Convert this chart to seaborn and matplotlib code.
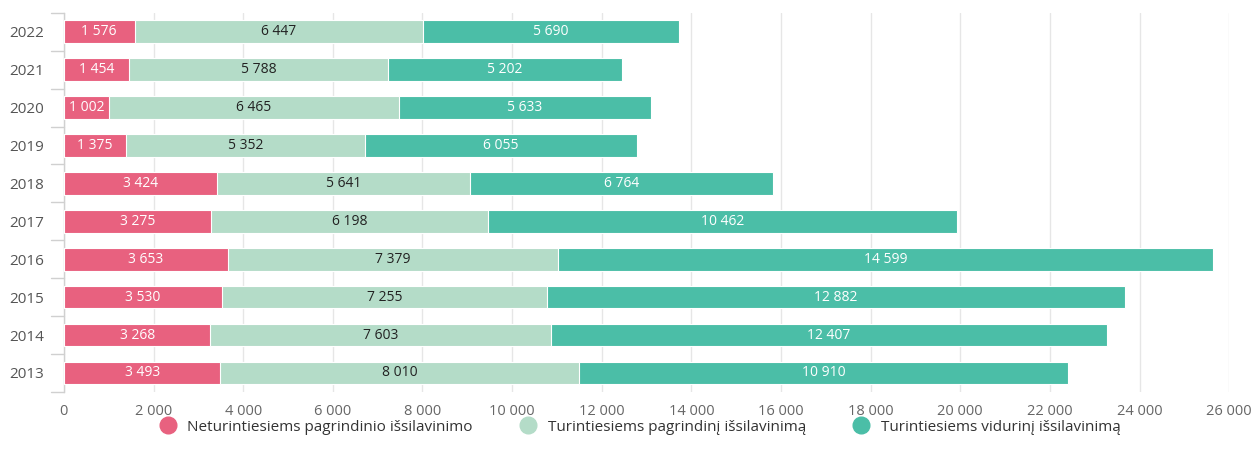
import numpy as np
import pandas as pd
import matplotlib.pyplot as plt
import seaborn as sns

years = ['2022', '2021', '2020', '2019', '2018', '2017', '2016', '2015', '2014', '2013']
be_pagrindinio = [1576, 1454, 1002, 1375, 3424, 3275, 3653, 3530, 3268, 3493]
pagrindinis = [6447, 5788, 6465, 5352, 5641, 6198, 7379, 7255, 7603, 8010]
vidurinis = [5690, 5202, 5633, 6055, 6764, 10462, 14599, 12882, 12407, 10910]

labels = ['Neturintiesiems pagrindinio išsilavinimo',
          'Turintiesiems pagrindinį išsilavinimą',
          'Turintiesiems vidurinį išsilavinimą']
colors = ['#e8617f', '#b4dcc8', '#4bbea7']
text_colors = ['white', '#222222', 'white']

df = pd.DataFrame({'year': years, 'a': be_pagrindinio, 'b': pagrindinis, 'c': vidurinis})
df['ab'] = df['a'] + df['b']
df['abc'] = df['ab'] + df['c']

sns.set_style('white')
plt.rcParams['font.family'] = ['Open Sans', 'DejaVu Sans']

fig = plt.figure(figsize=(12.53, 4.61), dpi=100)
ax = fig.add_axes([0.051, 0.150, 0.930, 0.822])

# stacked: draw totals first, then overlay the smaller sums
for col, c in zip(['abc', 'ab', 'a'], colors[::-1]):
    sns.barplot(data=df, x=col, y='year', order=years, color=c, width=0.6,
                orient='h', ax=ax, saturation=1, edgecolor='white', linewidth=0.8,
                zorder=3)

starts = [np.zeros(len(years)), df['a'].values, df['ab'].values]
vals = [df['a'].values, df['b'].values, df['c'].values]
for s, v, tc in zip(starts, vals, text_colors):
    for i in range(len(years)):
        ax.text(s[i] + v[i] / 2, i, f'{v[i]:,}'.replace(',', ' '),
                ha='center', va='center', fontsize=10, color=tc, zorder=4)

ax.set_xlim(0, 26000)
ax.set_ylim(len(years) - 0.5, -0.5)
ax.set_xticks(np.arange(0, 26001, 2000))
ax.set_xticklabels([f'{t:,}'.replace(',', ' ') for t in range(0, 26001, 2000)])
ax.tick_params(axis='x', colors='#666666', labelsize=10.5, length=0, pad=9)
ax.tick_params(axis='y', colors='#555555', labelsize=11, length=0, pad=14)
ax.set_xlabel('')
ax.set_ylabel('')
ax.xaxis.grid(True, color='#e6e6e6', linewidth=1, zorder=0)
ax.set_axisbelow(True)
for side in ['top', 'right', 'bottom']:
    ax.spines[side].set_visible(False)
ax.spines['left'].set_color('#d0d0d0')
ax.spines['left'].set_linewidth(1)

# category boundary ticks on the y axis
for b in np.arange(-0.5, len(years), 1.0):
    ax.plot([-290, 0], [b, b], color='#d0d0d0', linewidth=1, clip_on=False, zorder=2)

handles = [plt.Line2D([], [], marker='o', linestyle='', markersize=12,
                      markerfacecolor=c, markeredgecolor=c) for c in colors]
fig.legend(handles, labels, loc='center', bbox_to_anchor=(0.508, 0.073), ncol=3,
           frameon=False, fontsize=11, handletextpad=0.3, columnspacing=2.6,
           labelcolor='#333333')

fig.savefig('out.png', dpi=100)
